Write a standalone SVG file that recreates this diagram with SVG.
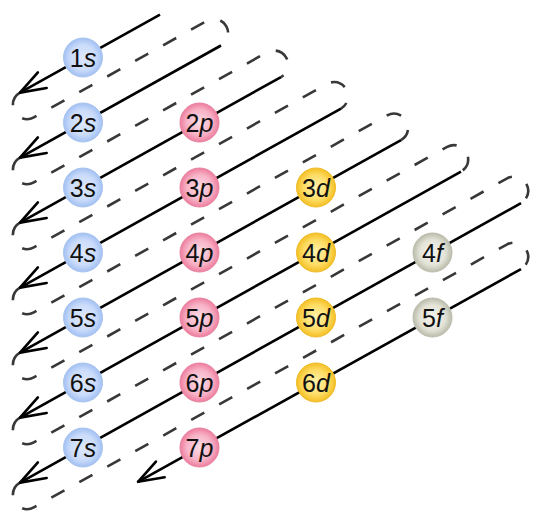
<svg xmlns="http://www.w3.org/2000/svg" width="537" height="527" viewBox="0 0 537 527">
<style>
.sl{fill:none;stroke:#000;stroke-width:2.6;marker-end:url(#arr)}
.dl{fill:none;stroke:#383838;stroke-width:2.6;stroke-dasharray:15 17}
.n text{font-family:"Liberation Sans",Arial,sans-serif;font-size:25px;fill:#111;text-anchor:middle}
.n tspan.l{font-style:italic}
.s circle{fill:url(#gs);stroke:#a9c4ef;stroke-width:1}
.p circle{fill:url(#gp);stroke:#e7829f;stroke-width:1}
.d circle{fill:url(#gd);stroke:#eebb2a;stroke-width:1}
.f circle{fill:url(#gf);stroke:#bdbdae;stroke-width:1}
</style>
<defs>
<marker id="arr" markerUnits="userSpaceOnUse" markerWidth="40" markerHeight="30" viewBox="-30 -15 40 30" refX="0" refY="0" orient="auto" overflow="visible">
<path d="M-25.5,-9 L0,0 L-25.5,9" fill="none" stroke="#000" stroke-width="2.6" stroke-linejoin="round" stroke-linecap="round"/>
</marker>
<radialGradient id="gs" cx="50%" cy="50%" r="50%"><stop offset="0" stop-color="#dde8fc"/><stop offset="0.65" stop-color="#cbdcfa"/><stop offset="1" stop-color="#a2c0f3"/></radialGradient>
<radialGradient id="gp" cx="50%" cy="50%" r="50%"><stop offset="0" stop-color="#fcdce5"/><stop offset="0.65" stop-color="#f7b3c7"/><stop offset="1" stop-color="#ee7d9f"/></radialGradient>
<radialGradient id="gd" cx="50%" cy="50%" r="50%"><stop offset="0" stop-color="#fff3b0"/><stop offset="0.65" stop-color="#fddc63"/><stop offset="1" stop-color="#f4bf24"/></radialGradient>
<radialGradient id="gf" cx="50%" cy="50%" r="50%"><stop offset="0" stop-color="#f4f4ec"/><stop offset="0.65" stop-color="#e3e3d8"/><stop offset="1" stop-color="#bcbcac"/></radialGradient>
</defs>
<g id="connectors">
<path class="dl" d="M20,92.65 A14.19,14.19 0 0 0 33.83,117.43 L207.17,20.73 A14.19,14.19 0 0 1 221,45.51"/>
<path class="dl" d="M20,157.65 A14.19,14.19 0 0 0 33.83,182.43 L267.17,52.26 A14.19,14.19 0 0 1 281,77.04"/>
<path class="dl" d="M20,222.65 A14.19,14.19 0 0 0 33.83,247.43 L327.17,83.78 A14.19,14.19 0 0 1 341,108.56"/>
<path class="dl" d="M20,287.65 A14.19,14.19 0 0 0 33.83,312.43 L387.17,115.31 A14.19,14.19 0 0 1 401,140.09"/>
<path class="dl" d="M20,352.65 A14.19,14.19 0 0 0 33.83,377.43 L447.17,146.83 A14.19,14.19 0 0 1 461,171.61"/>
<path class="dl" d="M20,417.65 A14.19,14.19 0 0 0 33.83,442.43 L507.17,178.36 A14.19,14.19 0 0 1 521,203.14"/>
<path class="dl" d="M20,482.65 A14.19,14.19 0 0 0 33.83,507.43 L507.17,244.36 A14.19,14.19 0 0 1 521,269.14"/>
<path class="sl" d="M160,14.54 L20,92.65"/>
<path class="sl" d="M221,45.51 L20,157.65"/>
<path class="sl" d="M281,77.04 L20,222.65"/>
<path class="sl" d="M341,108.56 L20,287.65"/>
<path class="sl" d="M401,140.09 L20,352.65"/>
<path class="sl" d="M461,171.61 L20,417.65"/>
<path class="sl" d="M521,203.14 L20,482.65"/>
<path class="sl" d="M521,269.14 L138,481.82"/>
</g>
<g id="n1s" class="n s"><circle cx="83" cy="57.5" r="19.5"/><text x="83" y="66.5">1<tspan class="l">s</tspan></text></g>
<g id="n2s" class="n s"><circle cx="83" cy="122.5" r="19.5"/><text x="83" y="131.5">2<tspan class="l">s</tspan></text></g>
<g id="n3s" class="n s"><circle cx="83" cy="187.5" r="19.5"/><text x="83" y="196.5">3<tspan class="l">s</tspan></text></g>
<g id="n4s" class="n s"><circle cx="83" cy="252.5" r="19.5"/><text x="83" y="261.5">4<tspan class="l">s</tspan></text></g>
<g id="n5s" class="n s"><circle cx="83" cy="317.5" r="19.5"/><text x="83" y="326.5">5<tspan class="l">s</tspan></text></g>
<g id="n6s" class="n s"><circle cx="83" cy="382.5" r="19.5"/><text x="83" y="391.5">6<tspan class="l">s</tspan></text></g>
<g id="n7s" class="n s"><circle cx="83" cy="447.5" r="19.5"/><text x="83" y="456.5">7<tspan class="l">s</tspan></text></g>
<g id="n2p" class="n p"><circle cx="199.5" cy="122.5" r="19.5"/><text x="199.5" y="131.5">2<tspan class="l">p</tspan></text></g>
<g id="n3p" class="n p"><circle cx="199.5" cy="187.5" r="19.5"/><text x="199.5" y="196.5">3<tspan class="l">p</tspan></text></g>
<g id="n4p" class="n p"><circle cx="199.5" cy="252.5" r="19.5"/><text x="199.5" y="261.5">4<tspan class="l">p</tspan></text></g>
<g id="n5p" class="n p"><circle cx="199.5" cy="317.5" r="19.5"/><text x="199.5" y="326.5">5<tspan class="l">p</tspan></text></g>
<g id="n6p" class="n p"><circle cx="199.5" cy="382.5" r="19.5"/><text x="199.5" y="391.5">6<tspan class="l">p</tspan></text></g>
<g id="n7p" class="n p"><circle cx="199.5" cy="447.5" r="19.5"/><text x="199.5" y="456.5">7<tspan class="l">p</tspan></text></g>
<g id="n3d" class="n d"><circle cx="316" cy="187.5" r="19.5"/><text x="316" y="196.5">3<tspan class="l">d</tspan></text></g>
<g id="n4d" class="n d"><circle cx="316" cy="252.5" r="19.5"/><text x="316" y="261.5">4<tspan class="l">d</tspan></text></g>
<g id="n5d" class="n d"><circle cx="316" cy="317.5" r="19.5"/><text x="316" y="326.5">5<tspan class="l">d</tspan></text></g>
<g id="n6d" class="n d"><circle cx="316" cy="382.5" r="19.5"/><text x="316" y="391.5">6<tspan class="l">d</tspan></text></g>
<g id="n4f" class="n f"><circle cx="432.5" cy="252.5" r="19.5"/><text x="432.5" y="261.5">4<tspan class="l">f</tspan></text></g>
<g id="n5f" class="n f"><circle cx="432.5" cy="317.5" r="19.5"/><text x="432.5" y="326.5">5<tspan class="l">f</tspan></text></g>
</svg>
